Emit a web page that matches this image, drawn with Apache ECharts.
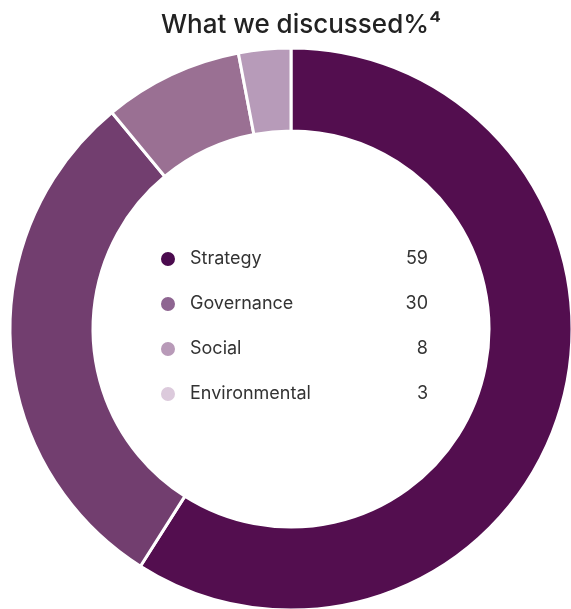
<!DOCTYPE html>
<html><head><meta charset="utf-8">
<script src="https://cdn.jsdelivr.net/npm/echarts@6/dist/echarts.min.js"></script>
<style>html,body{margin:0;padding:0;background:#fff}#c{width:571px;height:609px}</style>
</head><body><div id="c"></div>
<script>
var categories = ['Strategy', 'Governance', 'Social', 'Environmental'];
var values = [59, 30, 8, 3];
var sliceColors = ['#530e4f', '#723e6f', '#9a7093', '#b79bb9'];
var legendColors = ['#4b0b4e', '#8e6591', '#b89ab8', '#dccadc'];

var chart = echarts.init(document.getElementById('c'));
chart.setOption({
  animation: false,
  title: {
    text: 'What we discussed%\u2074',
    left: 161,
    top: 12,
    padding: 0,
    textStyle: { fontFamily: 'Inter', fontSize: 26, fontWeight: 500, color: '#222' }
  },
  legend: {
    orient: 'vertical',
    left: 159,
    top: 250,
    padding: 0,
    icon: 'circle',
    itemWidth: 16,
    itemHeight: 16,
    itemGap: 27,
    selectedMode: false,
    data: categories.map(function (c, i) {
      return { name: c, itemStyle: { color: legendColors[i] } };
    }),
    formatter: function (name) {
      var i = categories.indexOf(name);
      return '{a|' + name + '}{b|' + values[i] + '}';
    },
    textStyle: {
      fontFamily: 'Inter',
      fontSize: 18,
      color: '#333',
      rich: {
        a: { fontFamily: 'Inter', fontSize: 18, color: '#333', width: 198, padding: [0, 0, 0, 9], lineHeight: 20 },
        b: { fontFamily: 'Inter', fontSize: 18, color: '#333', width: 40, align: 'right', lineHeight: 20 }
      }
    }
  },
  series: [{
    type: 'pie',
    center: [291, 329],
    radius: [198, 281],
    startAngle: 90,
    clockwise: true,
    label: { show: false },
    labelLine: { show: false },
    silent: true,
    itemStyle: { borderColor: '#fff', borderWidth: 3 },
    data: categories.map(function (c, i) {
      return { name: c, value: values[i], itemStyle: { color: sliceColors[i] } };
    })
  }]
});
</script></body></html>
